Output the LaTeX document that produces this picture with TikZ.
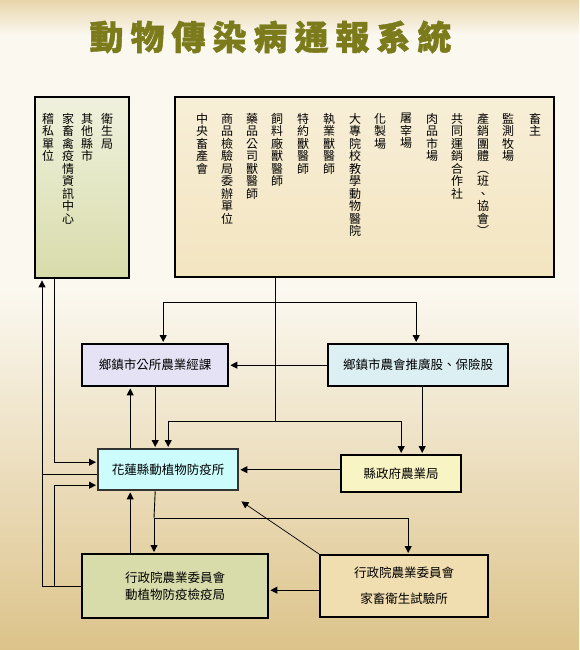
\documentclass[tikz,border=0pt]{standalone}
\usepackage{fontspec}
\usetikzlibrary{arrows.meta,calc}
\newfontfamily\cjk{Noto Sans CJK TC}
\definecolor{bgtop}{HTML}{E8D6AA}
\definecolor{bgmid}{HTML}{FBF8F0}
\definecolor{bgbot}{HTML}{DCC38A}
\definecolor{olivet}{HTML}{7B7B1C}
\definecolor{cgs}{HTML}{E4E2F4}
\definecolor{cnh}{HTML}{DCF0F4}
\definecolor{cfy}{HTML}{CCFCFC}
\definecolor{cnyj}{HTML}{F8F4C4}
\definecolor{cjyj}{HTML}{D8DCAA}
\definecolor{csys}{HTML}{F0DEB0}
\tikzset{
  box/.style={draw=black, line width=2.4pt, anchor=north west, inner sep=0pt,
    align=center, font=\cjk\fontsize{12.5}{18}\selectfont},
  vt/.style={anchor=north, align=center, inner sep=0pt,
    font=\cjk\fontsize{12}{12.5}\selectfont},
  conn/.style={line width=0.9pt, draw=black},
  arr/.style={conn, -{Triangle[length=7pt,width=7pt]}, shorten >=1pt},
  titlechar/.style={font=\cjk\bfseries\addfontfeature{FakeBold=1.2}\fontsize{34}{34}\selectfont, text=olivet},
}
\begin{document}
\begin{tikzpicture}[x=1pt,y=-1pt]
\useasboundingbox (0,0) rectangle (579,650);
% background
\shade[top color=bgtop, bottom color=bgmid] (0,0) rectangle (579,35);
\fill[bgmid] (0,35) rectangle (579,290);
\shade[top color=bgmid, bottom color=bgbot] (0,290) rectangle (579,650);
% title
\foreach \c [count=\i from 0] in {動,物,傳,染,病,通,報,系,統}{
  \node[titlechar] (t\i) at (106.5+41*\i,37) {\c};
}
% top boxes
\node[box, top color=white!60!cjyj, bottom color=cjyj, minimum width=94pt, minimum height=181pt] (lbox) at (34,96) {};
\node[box, top color=white!50!csys, bottom color=white!20!csys, minimum width=379pt, minimum height=180pt] (big) at (174,96) {};
% left box texts
\node[vt] (l1) at (107,113) {衛\\生\\局};
\node[vt] (l2) at (87,113) {其\\他\\縣\\市};
\node[vt] (l3) at (68,113) {家\\畜\\禽\\疫\\情\\資\\訊\\中\\心};
\node[vt] (l4) at (48,113) {稽\\私\\單\\位};
% big box texts
\node[vt] (b1) at (535,113) {畜\\主};
\node[vt] (b2) at (508,113) {監\\測\\牧\\場};
\node[vt] (b3) at (483,113) {產\\銷\\團\\體\\︵\\班\\、\\協\\會\\︶};
\node[vt] (b4) at (457,113) {共\\同\\運\\銷\\合\\作\\社};
\node[vt] (b5) at (432,113) {肉\\品\\市\\場};
\node[vt] (b6) at (406,113) {屠\\宰\\場};
\node[vt] (b7) at (380,113) {化\\製\\場};
\node[vt] (b8) at (355,113) {大\\專\\院\\校\\教\\學\\動\\物\\醫\\院};
\node[vt] (b9) at (329,113) {執\\業\\獸\\醫\\師};
\node[vt] (b10) at (303,113) {特\\約\\獸\\醫\\師};
\node[vt] (b11) at (277,113) {飼\\料\\廠\\獸\\醫\\師};
\node[vt] (b12) at (252,113) {藥\\品\\公\\司\\獸\\醫\\師};
\node[vt] (b13) at (227,113) {商\\品\\檢\\驗\\局\\委\\辦\\單\\位};
\node[vt] (b14) at (202,113) {中\\央\\畜\\產\\會};
% middle boxes
\node[box, fill=cgs, minimum width=146pt, minimum height=42pt] (gs) at (81,343) {鄉鎮市公所農業經課};
\node[box, fill=cnh, minimum width=180pt, minimum height=42pt] (nh) at (327,343) {鄉鎮市農會推廣股、保險股};
\node[box, fill=cfy, draw=black!80, minimum width=140pt, minimum height=41pt] (fy) at (97,448) {花蓮縣動植物防疫所};
\node[box, fill=cnyj, minimum width=120pt, minimum height=37pt] (nyj) at (340,454) {縣政府農業局};
\node[box, fill=cjyj, minimum width=186pt, minimum height=64pt] (jyj) at (81,553) {行政院農業委員會\\[-1pt]動植物防疫檢疫局};
\node[box, fill=csys, minimum width=168pt, minimum height=62pt, font=\cjk\fontsize{12.5}{26}\selectfont] (sys) at (319,554) {行政院農業委員會\\家畜衛生試驗所};
% junction coordinates
\coordinate (j1) at (275,302);
\coordinate (j2) at (275,421);
\coordinate (j3) at (154,518);
\coordinate (L1) at (42,0);
\coordinate (L2) at (54,0);
% connectors
\draw[conn] (big.south -| j1) -- (j2);
\draw[arr] (j1) -| ([xshift=8pt]gs.north);
\draw[arr] (j1) -| ([xshift=-2pt]nh.north);
\draw[arr] (j2) -| (fy.north);
\draw[arr] (j2) -| (nyj.north);
\draw[arr] (nh.west) -- (gs.east);
\draw[arr] ([xshift=4pt]nh.south) -- ([xshift=4pt]nh.south |- nyj.north);
\draw[arr] (gs.south) -- (gs.south |- fy.north);
\draw[arr] ([xshift=-38pt]fy.north) -- ([xshift=-38pt]fy.north |- gs.south);
\draw[arr] (nyj.west |- fy.east) -- (fy.east);
% left side
\draw[arr] (jyj.west) -| (lbox.south -| L1);
\draw[conn] ([yshift=-4.5pt]fy.west) -- ([yshift=-4.5pt]fy.west -| L1);
\draw[arr] (lbox.south -| L2) |- ([yshift=7.5pt]fy.west);
\draw[arr] (jyj.west -| L2) |- ([yshift=-15.5pt]fy.west);
% bottom
\draw[arr] ([xshift=-38pt]fy.south |- jyj.north) -- ([xshift=-38pt]fy.south);
\draw[conn] ([xshift=-13pt]fy.south) -- (j3);
\draw[arr] (j3) -- (j3 |- jyj.north);
\draw[arr] (j3) -| ([xshift=4pt]sys.north);
\draw[line width=0.7pt, -{Triangle[length=7pt,width=7pt]}] (sys.north west) -- ([xshift=2pt,yshift=-10pt]fy.south east);
\draw[arr] ([yshift=-4pt]sys.west) -- ([yshift=-4pt]sys.west -| jyj.east);
\end{tikzpicture}
\end{document}
